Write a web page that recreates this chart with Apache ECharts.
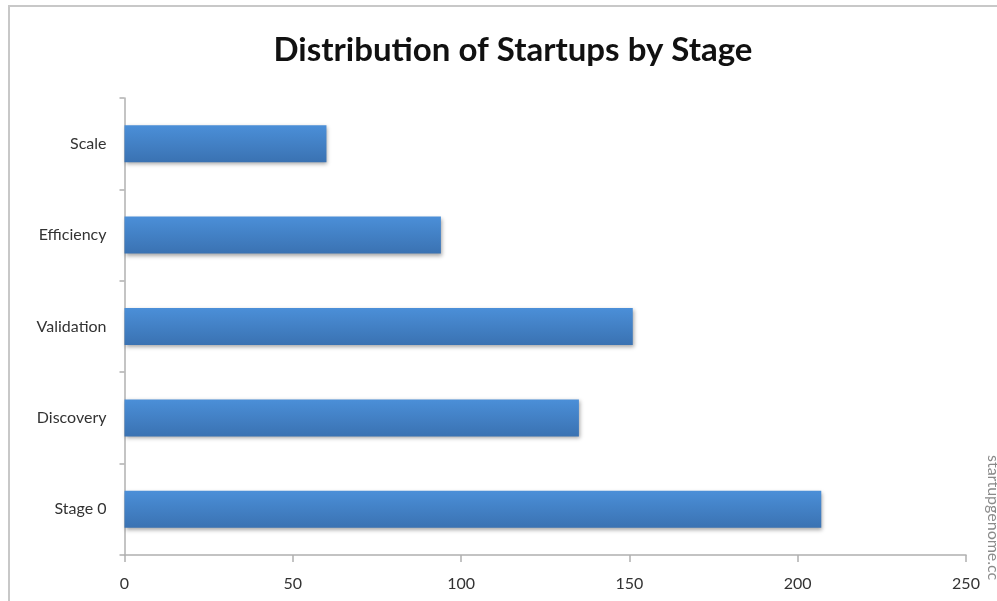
<!DOCTYPE html>
<html>
<head>
<meta charset="utf-8">
<script src="https://cdn.jsdelivr.net/npm/echarts@6/dist/echarts.min.js"></script>
<style>html,body{margin:0;padding:0;background:#fff}#c{width:997px;height:601px}</style>
</head>
<body>
<div id="c"></div>
<script>
var categories = ["Stage 0", "Discovery", "Validation", "Efficiency", "Scale"];
var startups = [207, 135, 151, 94, 60];
var xTicks = [0, 50, 100, 150, 200, 250];

var chart = echarts.init(document.getElementById('c'));
chart.setOption({
  backgroundColor: '#fff',
  animation: false,
  title: {
    text: 'Distribution of Startups by Stage',
    left: 508,
    textAlign: 'center',
    top: 29,
    textStyle: { fontFamily: 'Lato', fontWeight: 'bold', fontSize: 33, color: '#111' }
  },
  grid: { left: 124.5, right: 31, top: 98, bottom: 46, containLabel: false },
  xAxis: {
    type: 'value',
    min: xTicks[0], max: xTicks[xTicks.length - 1], interval: 50,
    axisLine: { show: true, lineStyle: { color: '#b0b0b0', width: 1.5 } },
    axisTick: { show: true, length: 7, lineStyle: { color: '#b0b0b0', width: 1.5 } },
    splitLine: { show: false },
    axisLabel: { color: '#333', fontFamily: 'Lato', fontSize: 16, margin: 21 }
  },
  yAxis: {
    type: 'category',
    data: categories,
    axisLine: { show: true, lineStyle: { color: '#b0b0b0', width: 1.5 } },
    axisTick: { show: true, length: 5, lineStyle: { color: '#b0b0b0', width: 1.5 } },
    axisLabel: { color: '#333', fontFamily: 'Lato', fontSize: 16, margin: 18, padding: [6, 0, 0, 0] }
  },
  series: [{
    type: 'bar',
    data: startups,
    barWidth: 37,
    itemStyle: {
      color: new echarts.graphic.LinearGradient(0, 0, 0, 1, [
        { offset: 0, color: '#4b8fd8' },
        { offset: 1, color: '#3a72b2' }
      ]),
      shadowColor: 'rgba(0,0,0,0.35)',
      shadowBlur: 4,
      shadowOffsetX: 1,
      shadowOffsetY: 2
    }
  }],
  graphic: [
    {
      type: 'rect',
      shape: { x: 9, y: 6, width: 1200, height: 800 },
      style: { fill: 'none', stroke: '#c8c8c8', lineWidth: 2 },
      silent: true
    },
    {
      type: 'text',
      x: 985, y: 455,
      rotation: -Math.PI / 2,
      style: { text: 'startupgenome.cc', fill: '#8a8a8a', font: '16px Lato', textAlign: 'left', textVerticalAlign: 'bottom' },
      silent: true
    }
  ]
});
</script>
</body>
</html>
